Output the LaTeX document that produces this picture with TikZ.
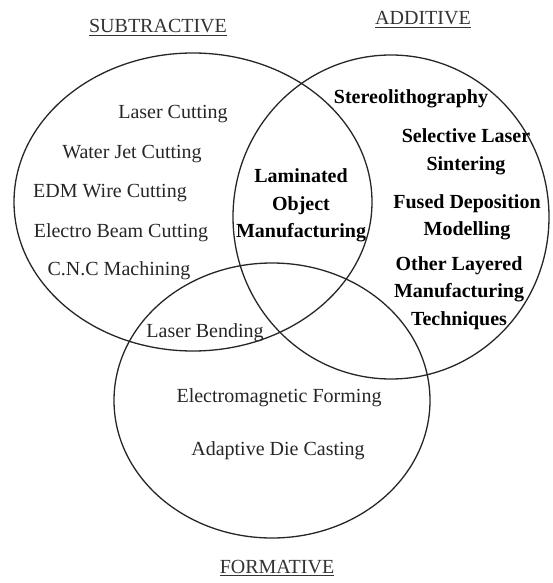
\documentclass[tikz,border=0pt]{standalone}
\usepackage{fontspec}
\setmainfont{Liberation Serif}
\begin{document}
\begin{tikzpicture}[x=1pt,y=-1pt,
  lbl/.style={font=\fontsize{20}{27.5}\selectfont, text=black!85, inner sep=0pt, anchor=base},
  blbl/.style={font=\fontsize{20}{27.5}\selectfont\bfseries, align=center, inner sep=0pt},
  head/.style={font=\fontsize{20}{24}\selectfont, text=black!80, inner sep=0pt, anchor=base},
  ring/.style={draw=black!85, line width=1.3pt}]
\useasboundingbox (0,0) rectangle (552,583);
% sets
\draw[ring] (193,202) ellipse [x radius=179pt, y radius=149pt];
\draw[ring] (391,217) ellipse [x radius=158pt, y radius=162pt];
\draw[ring] (272,400.5) ellipse [x radius=158pt, y radius=137.5pt];
% headings
\node[head] (sub) at (158,33) {\underline{SUBTRACTIVE}};
\node[head] (add) at (423,25) {\underline{ADDITIVE}};
\node[head] (form) at (277,573) {\underline{FORMATIVE}};
% subtractive
\node[lbl] (lc) at (173,118) {Laser Cutting};
\node[lbl] (wj) at (132,158) {Water Jet Cutting};
\node[lbl] (edm) at (110,197) {EDM Wire Cutting};
\node[lbl] (eb) at (121,237) {Electro Beam Cutting};
\node[lbl] (cnc) at (119,275) {C.N.C Machining};
% intersections
\node[blbl] (lom) at (301,205.5) {Laminated\\Object\\Manufacturing};
\node[lbl] (lb) at (205,337) {Laser Bending};
% additive
\node[blbl, anchor=base] (sla) at (411,103) {Stereolithography};
\node[blbl] (sls) at (466,152) {Selective Laser\\Sintering};
\node[blbl] (fdm) at (467,217.5) {Fused Deposition\\Modelling};
\node[blbl] (olm) at (459,293) {Other Layered\\Manufacturing\\Techniques};
% formative
\node[lbl] (emf) at (279,402) {Electromagnetic Forming};
\node[lbl] (adc) at (278,455) {Adaptive Die Casting};
\end{tikzpicture}
\end{document}
